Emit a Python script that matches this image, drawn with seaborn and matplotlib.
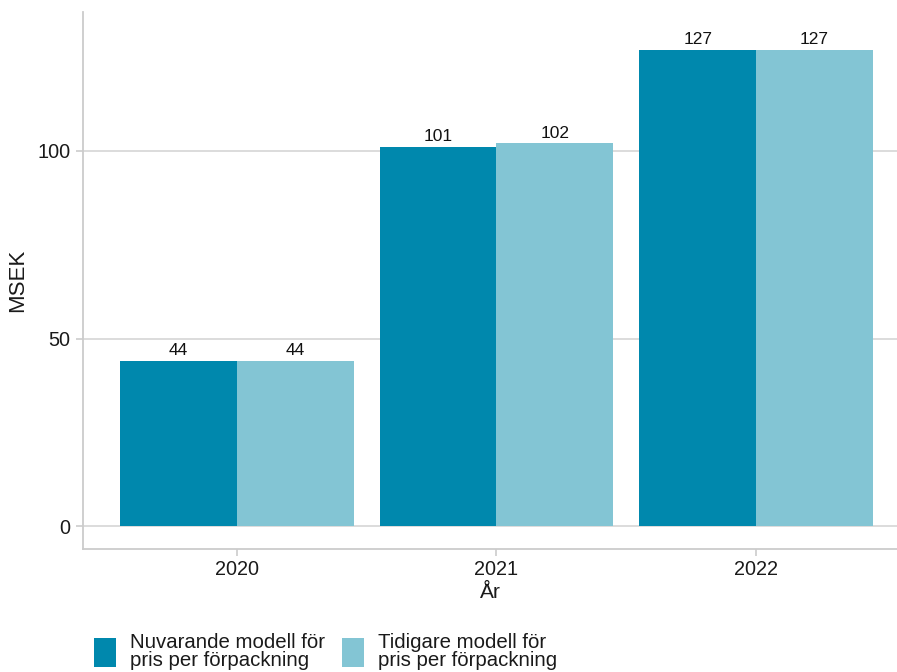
import matplotlib
matplotlib.use("Agg")
import matplotlib.pyplot as plt
import seaborn as sns
import pandas as pd

years = ["2020", "2021", "2022"]
current_model = [44, 101, 127]
previous_model = [44, 102, 127]
series_names = ["Nuvarande modell för\npris per förpackning",
                "Tidigare modell för\npris per förpackning"]
colors = ["#0088AD", "#83C5D4"]
y_ticks = [0, 50, 100]

df = pd.DataFrame({
    "År": years * 2,
    "MSEK": current_model + previous_model,
    "Modell": [series_names[0]] * len(years) + [series_names[1]] * len(years),
})

sns.set_theme(style="white")
plt.rcParams["font.family"] = ["Liberation Sans", "DejaVu Sans"]

fig = plt.figure(figsize=(8.97, 6.72), dpi=100)
ax = fig.add_axes([0.0925, 0.183, 0.9075, 0.799])

sns.barplot(data=df, x="År", y="MSEK", hue="Modell", palette=colors,
            width=0.9, saturation=1, ax=ax, errorbar=None, linewidth=0)

for cont in ax.containers:
    ax.bar_label(cont, fmt="%.0f", padding=2, fontsize=12.5, color="#111111")

ax.set_xlim(-0.593, 2.543)
ax.set_ylim(-6.1, 137)
ax.set_yticks(y_ticks)
ax.yaxis.grid(True, color="#d9d9d9", linewidth=1.3)
ax.set_axisbelow(True)

for side in ["top", "right"]:
    ax.spines[side].set_visible(False)
for side in ["left", "bottom"]:
    ax.spines[side].set_color("#cccccc")
    ax.spines[side].set_linewidth(1.3)

ax.tick_params(axis="both", which="both", length=5, width=1.2, color="#cccccc",
               labelsize=14.3, labelcolor="#1a1a1a", left=True, bottom=True)
ax.tick_params(axis="x", pad=3)
ax.tick_params(axis="y", pad=4)
ax.set_xlabel("År", fontsize=15, color="#1a1a1a", labelpad=3)
ax.set_ylabel("MSEK", fontsize=16, color="#1a1a1a", labelpad=7)

handles, labels = ax.get_legend_handles_labels()
ax.legend(handles, labels, loc="lower left", bbox_to_anchor=(0.098, -0.006),
          bbox_transform=fig.transFigure, ncol=2, frameon=False, fontsize=14.7,
          handlelength=1.08, handleheight=1.86, handletextpad=0.69,
          columnspacing=0.83, borderaxespad=0, borderpad=0.3, labelspacing=0.2)
for t in ax.get_legend().get_texts():
    t.set_linespacing(0.92)
    t.set_color("#1a1a1a")

fig.savefig("out.png", dpi=100)
